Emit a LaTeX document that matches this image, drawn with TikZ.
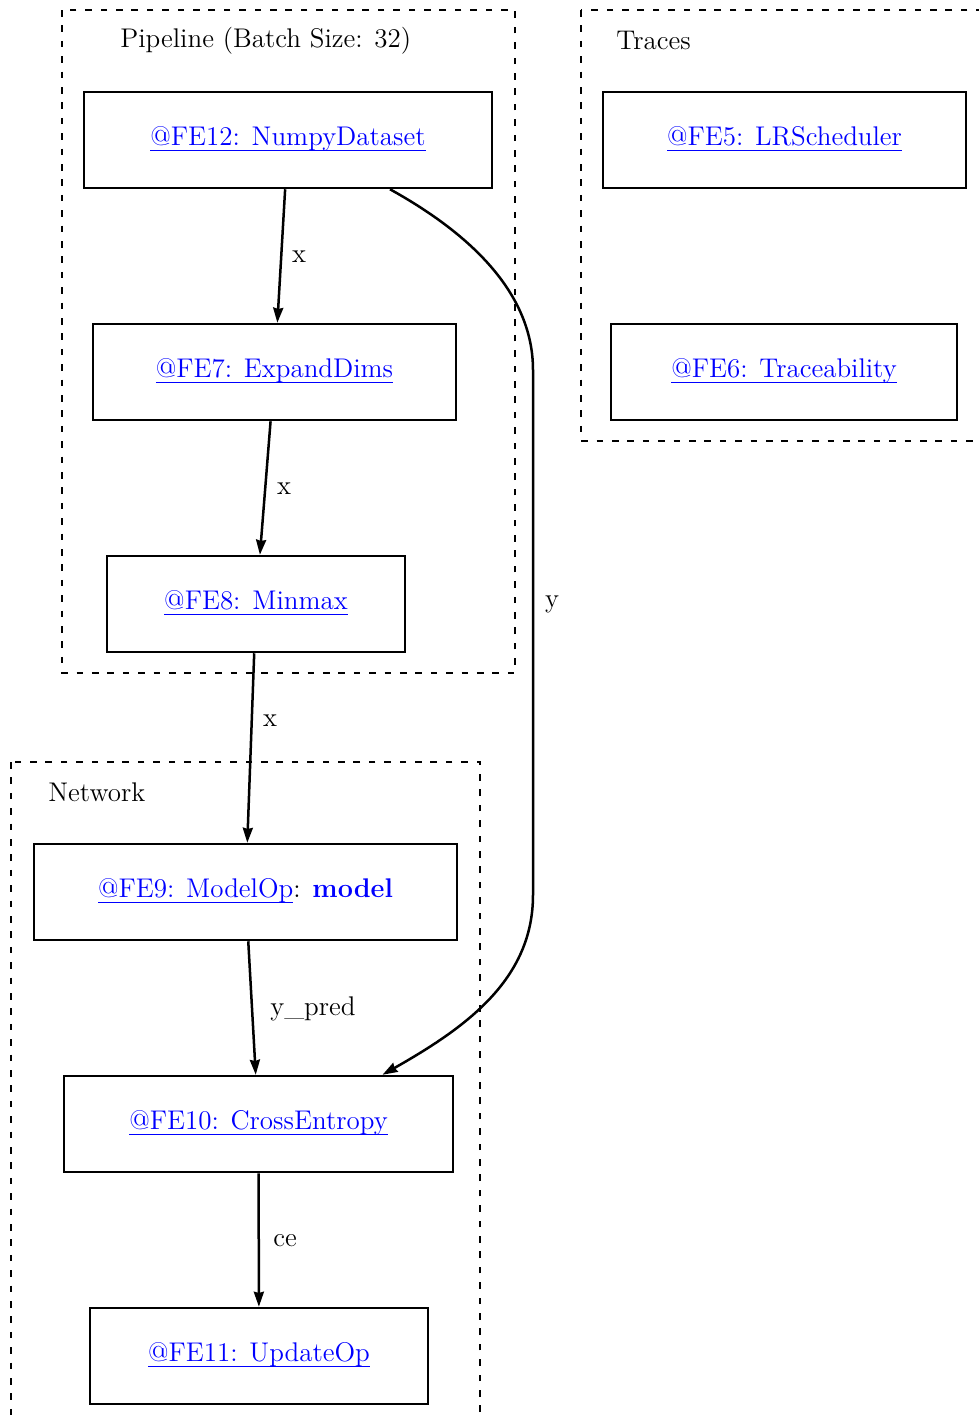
\documentclass[tikz,border=0pt]{standalone}
\usepackage{fontspec}
\usetikzlibrary{arrows.meta}
% link text: blue with a rule drawn at a fixed distance below the baseline
\newcommand{\lnk}[1]{{\setbox0\hbox{#1}\rlap{\rule[-3.2pt]{\wd0}{0.5pt}}\box0}}
\tikzset{
  op/.style={draw, line width=1.25pt, minimum height=48pt, inner sep=0pt,
    text height=9.5pt, text depth=4.5pt, text=blue,
    font=\fontsize{13.5}{16}\selectfont},
  cluster/.style={line width=1.25pt, dash pattern=on 3.3pt off 4.4pt},
  clabel/.style={anchor=base west, inner sep=0pt, font=\fontsize{13.5}{16}\selectfont},
  elabel/.style={anchor=base, inner sep=0pt, font=\fontsize{13.5}{16}\selectfont},
  edge/.style={line width=1.25pt, -{Stealth[length=7.5pt,width=5pt,inset=0.6pt]}},
}
\begin{document}
\begin{tikzpicture}[x=0.5pt,y=-0.5pt]
\useasboundingbox (0,0) rectangle (979,1420);

% clusters
\draw[cluster] (62,10) rectangle (515,673);
\node[clabel] (lpipe) at (120,47) {Pipeline (Batch Size: 32)};
\draw[cluster] (581,10) rectangle (990,441);
\node[clabel] (ltraces) at (616,49) {Traces};
\draw[cluster] (11,762) rectangle (480,1430);
\node[clabel] (lnet) at (48,801) {Network};

% operators
\node[op, minimum width=204pt]   (fe12) at (288,140)   {\lnk{@FE12: NumpyDataset}};
\node[op, minimum width=181.5pt] (fe7)  at (274.5,372) {\lnk{@FE7: ExpandDims}};
\node[op, minimum width=149pt]   (fe8)  at (256,604)   {\lnk{@FE8: Minmax}};
\node[op, minimum width=181.5pt] (fe5)  at (784.5,140) {\lnk{@FE5: LRScheduler}};
\node[op, minimum width=173pt]   (fe6)  at (784,372)   {\lnk{@FE6: Traceability}};
\node[op, minimum width=211.5pt] (fe9)  at (245.5,892) {\lnk{@FE9: ModelOp}\textcolor{black}{:} \textbf{model}};
\node[op, minimum width=194.5pt] (fe10) at (258.5,1124) {\lnk{@FE10: CrossEntropy}};
\node[op, minimum width=169pt]   (fe11) at (259,1356)  {\lnk{@FE11: UpdateOp}};

% data flow
\draw[edge] (fe12) -- (fe7);
\node[elabel] (lx1) at (299,262) {x};
\draw[edge] (fe7) -- (fe8);
\node[elabel] (lx2) at (284,494) {x};
\draw[edge] (fe8) -- (fe9);
\node[elabel] (lx3) at (270,726) {x};
\draw[edge] (fe9) -- (fe10);
\node[elabel, anchor=base west] (lyp) at (270,1015) {y\_pred};
\draw[edge] (fe10) -- (fe11);
\node[elabel] (lce) at (285,1246) {ce};

\coordinate (ys) at ([xshift=51pt]fe12.south);
\coordinate (ye) at ([xshift=62pt]fe10.north);
\draw[edge] (ys) .. controls (478,238) and (533,298) .. (533,370)
  -- (533,895) .. controls (533,980) and (465,1028) .. (ye);
\node[elabel] (ly) at (552,607) {y};
\end{tikzpicture}
\end{document}
